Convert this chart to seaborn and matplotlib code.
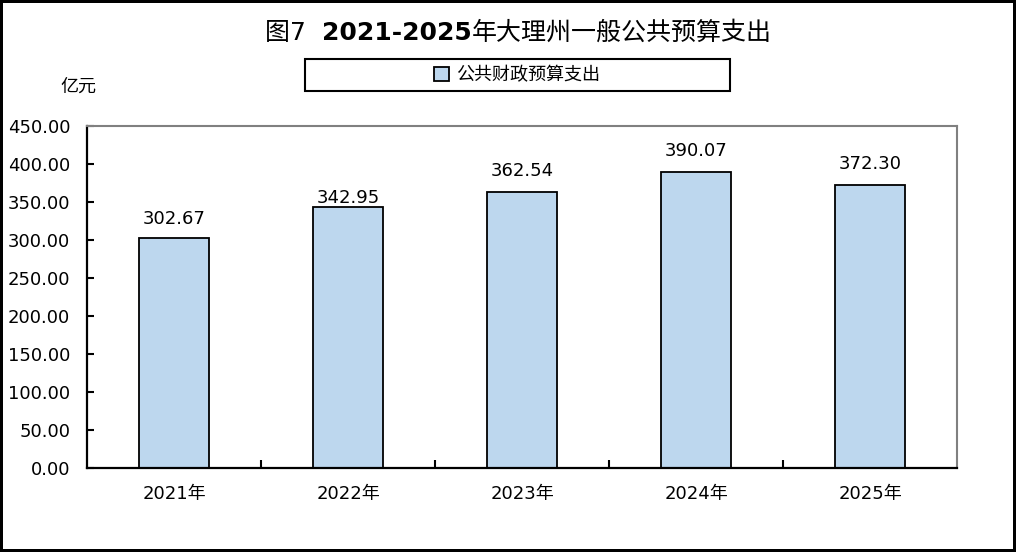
import matplotlib
matplotlib.use("Agg")
import matplotlib.pyplot as plt
from matplotlib.patches import Patch, Rectangle
from matplotlib.ticker import FormatStrFormatter
import pandas as pd
import seaborn as sns

YEARS = ["2021年", "2022年", "2023年", "2024年", "2025年"]
SPENDING = [302.67, 342.95, 362.54, 390.07, 372.30]
SERIES_NAME = "公共财政预算支出"
UNIT = "亿元"
Y_TICKS = [0, 50, 100, 150, 200, 250, 300, 350, 400, 450]

# label gap above each bar, in points (the source places them unevenly)
LABEL_PADDING = [7, 0, 9, 8.5, 9]

BAR_COLOR = "#BDD7EE"
W, H = 1016, 552


def main() -> None:
    sns.set_theme(style="white")
    plt.rcParams["font.family"] = ["DejaVu Sans", "Noto Sans CJK SC"]
    plt.rcParams["text.color"] = "black"

    df = pd.DataFrame({"year": YEARS, "value": SPENDING})

    fig = plt.figure(figsize=(W / 100, H / 100), dpi=100, linewidth=3, edgecolor="black")
    ax = fig.add_axes([87 / W, 1 - 468 / H, (957 - 87) / W, (468 - 126) / H])

    sns.barplot(data=df, x="year", y="value", color=BAR_COLOR, width=0.4,
                edgecolor="black", linewidth=1.3, saturation=1, ax=ax)

    for bar, pad in zip(ax.patches, LABEL_PADDING):
        ax.annotate(f"{bar.get_height():.2f}",
                    (bar.get_x() + bar.get_width() / 2, bar.get_height()),
                    xytext=(0, pad), textcoords="offset points",
                    ha="center", va="bottom", fontsize=13, color="black")

    ax.set_xlim(-0.5, len(YEARS) - 0.5)
    ax.set_ylim(0, 450)
    ax.set_yticks(Y_TICKS)
    ax.yaxis.set_major_formatter(FormatStrFormatter("%.2f"))
    ax.set_xticks(range(len(YEARS)))
    ax.set_xticklabels(YEARS)
    ax.set_xticks([i + 0.5 for i in range(len(YEARS) - 1)], minor=True)
    ax.set_xlabel("")
    ax.set_ylabel("")

    ax.tick_params(axis="y", direction="in", length=5, width=1.5, color="black",
                   labelsize=13, labelcolor="black", pad=12, left=True)
    ax.tick_params(axis="x", which="major", length=0, labelsize=13,
                   labelcolor="black", pad=12.5)
    ax.tick_params(axis="x", which="minor", direction="in", length=6, width=1.5,
                   color="black", bottom=True)

    for side in ["left", "bottom"]:
        ax.spines[side].set_color("black")
        ax.spines[side].set_linewidth(1.6)
    for side in ["top", "right"]:
        ax.spines[side].set_color("#808080")
        ax.spines[side].set_linewidth(1.5)

    fig.text(78 / W, 1 - 87 / H, UNIT, ha="center", va="center", fontsize=13)

    # title: mixed weights, laid out piece by piece
    t1 = fig.text(265 / W, 1 - 33 / H, "图7  ", ha="left", va="center", fontsize=18)
    t2 = ax.annotate("2021-2025", xy=(1, 0), xycoords=t1, ha="left", va="bottom",
                     fontsize=18, fontweight="bold", annotation_clip=False)
    ax.annotate("年大理州一般公共预算支出", xy=(1, 0), xycoords=t2, ha="left",
                va="bottom", fontsize=18, annotation_clip=False)

    # legend box
    fig.patches.append(Rectangle((305 / W, 1 - 91 / H), (730 - 305) / W, 32 / H,
                                 transform=fig.transFigure, fill=False,
                                 edgecolor="black", linewidth=1.5))
    handle = Patch(facecolor=BAR_COLOR, edgecolor="black", linewidth=1.3)
    fig.legend(handles=[handle], labels=[SERIES_NAME], loc="center",
               bbox_to_anchor=(517 / W, 1 - 75 / H), frameon=False, fontsize=13,
               handlelength=0.8, handleheight=0.8, handletextpad=0.4)

    fig.savefig("out.png", dpi=100)
    plt.close(fig)


if __name__ == "__main__":
    main()
